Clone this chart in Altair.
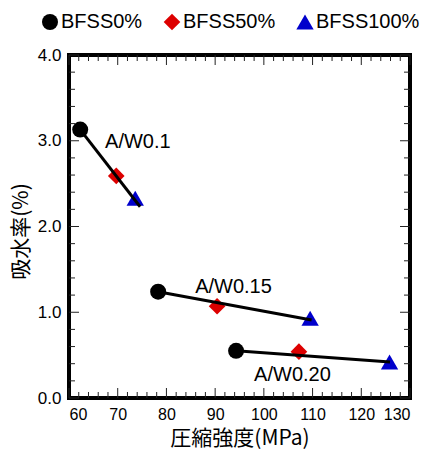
import altair as alt
import pandas as pd

series = ["BFSS0%", "BFSS50%", "BFSS100%"]
colors = ["#000000", "#dd0000", "#0000cc"]
shapes = ["circle", "diamond", "triangle-up"]

bfss0_x = [62.3, 78.3, 94.3]
bfss0_y = [3.13, 1.24, 0.55]
bfss50_x = [69.7, 90.4, 107.2]
bfss50_y = [2.59, 1.07, 0.54]
bfss100_x = [73.6, 109.5, 125.8]
bfss100_y = [2.33, 0.93, 0.42]

fit_start_x = [62.3, 78.3, 94.3]
fit_start_y = [3.13, 1.24, 0.55]
fit_end_x = [74.6, 109.8, 125.9]
fit_end_y = [2.23, 0.91, 0.42]

group_labels = ["A/W0.1", "A/W0.15", "A/W0.20"]
label_x = [67.4, 85.9, 98.0]
label_y = [2.98, 1.30, 0.27]

x_major = [60, 70, 80, 90, 100, 110, 120, 130]
x_minor = [62, 64, 66, 68, 72, 74, 76, 78, 82, 84, 86, 88, 92, 94, 96, 98,
           102, 104, 106, 108, 112, 114, 116, 118, 122, 124, 126, 128]
y_major = [0, 1, 2, 3, 4]
y_minor = [0.2, 0.4, 0.6, 0.8, 1.2, 1.4, 1.6, 1.8, 2.2, 2.4, 2.6, 2.8,
           3.2, 3.4, 3.6, 3.8]

W, H = 341, 343
FONT = "Liberation Sans"
JFONT = "Noto Sans CJK JP"

rows = []
for name, xs, ys in [(series[0], bfss0_x, bfss0_y),
                     (series[1], bfss50_x, bfss50_y),
                     (series[2], bfss100_x, bfss100_y)]:
    for xv, yv in zip(xs, ys):
        rows.append({"series": name, "x": xv, "y": yv})
pts = pd.DataFrame(rows)

line_rows = []
for i, g in enumerate(group_labels):
    line_rows.append({"g": g, "x": fit_start_x[i], "y": fit_start_y[i], "o": 0})
    line_rows.append({"g": g, "x": fit_end_x[i], "y": fit_end_y[i], "o": 1})
lines = pd.DataFrame(line_rows)

labels = pd.DataFrame({"t": group_labels, "x": label_x, "y": label_y})

xs = alt.Scale(domain=[60, 130], nice=False, zero=False)
ys = alt.Scale(domain=[0, 4], nice=False, zero=False)

xaxis = alt.Axis(values=x_major, format="d", ticks=False, domain=False, grid=False,
                 labelFont=FONT, labelFontSize=16, labelColor="black", labelPadding=8,
                 title="圧縮強度(MPa)", titleFont=JFONT, titleFontSize=21,
                 titleFontWeight="normal", titleColor="black", titlePadding=5)
yaxis = alt.Axis(values=y_major, format=".1f", ticks=False, domain=False, grid=False,
                 labelFont=FONT, labelFontSize=17, labelColor="black", labelPadding=8,
                 title="吸水率(%)", titleFont=JFONT, titleFontSize=21,
                 titleFontWeight="normal", titleColor="black",
                 titleX=-38, titleY=176, titleAngle=-90, titleAlign="center",
                 titleBaseline="bottom")

points = alt.Chart(pts).mark_point(filled=True, opacity=1, strokeWidth=0).encode(
    x=alt.X("x:Q", scale=xs, axis=xaxis),
    y=alt.Y("y:Q", scale=ys, axis=yaxis),
    color=alt.Color("series:N", scale=alt.Scale(domain=series, range=colors),
                    legend=alt.Legend(title=None, orient="none", direction="horizontal",
                                      legendX=-29, legendY=-43, padding=0,
                                      symbolSize=256, symbolStrokeWidth=0,
                                      symbolOpacity=1, labelFont=FONT,
                                      labelFontSize=20, labelColor="black",
                                      labelOffset=1, columnPadding=19)),
    shape=alt.Shape("series:N", scale=alt.Scale(domain=series, range=shapes)),
    size=alt.Size("series:N", scale=alt.Scale(domain=series, range=[256, 300, 300]),
                  legend=None),
)

fit = alt.Chart(lines).mark_line(color="black", strokeWidth=3).encode(
    x=alt.X("x:Q", scale=xs), y=alt.Y("y:Q", scale=ys), detail="g:N", order="o:Q")

text = alt.Chart(labels).mark_text(align="left", baseline="middle", font=FONT,
                                   fontSize=20, color="black").encode(
    x=alt.X("x:Q", scale=xs), y=alt.Y("y:Q", scale=ys), text="t:N")

def xticks(vals, length):
    df = pd.DataFrame({"v": vals})
    bot = alt.Chart(df).mark_rule(color="#222", strokeWidth=1).encode(
        x=alt.X("v:Q", scale=xs), y=alt.value(H), y2=alt.value(H - length))
    top = alt.Chart(df).mark_rule(color="#222", strokeWidth=1).encode(
        x=alt.X("v:Q", scale=xs), y=alt.value(0), y2=alt.value(length))
    return bot + top

def yticks(vals, length):
    df = pd.DataFrame({"v": vals})
    lft = alt.Chart(df).mark_rule(color="#222", strokeWidth=1).encode(
        y=alt.Y("v:Q", scale=ys), x=alt.value(0), x2=alt.value(length))
    rgt = alt.Chart(df).mark_rule(color="#222", strokeWidth=1).encode(
        y=alt.Y("v:Q", scale=ys), x=alt.value(W), x2=alt.value(W - length))
    return lft + rgt

one = pd.DataFrame({"k": [0]})
outer = alt.Chart(one).mark_rect(fill="black", strokeWidth=0).encode(
    x=alt.value(-2), x2=alt.value(W + 2), y=alt.value(-2), y2=alt.value(H + 2))
inner = alt.Chart(one).mark_rect(fill="white", strokeWidth=0).encode(
    x=alt.value(2), x2=alt.value(W - 2), y=alt.value(2), y2=alt.value(H - 2))

chart = alt.layer(
    outer, inner,
    xticks(x_minor, 6), xticks(x_major, 10), yticks(y_minor, 6), yticks(y_major, 10),
    points, fit, text,
).properties(
    width=W, height=H,
    autosize=alt.AutoSizeParams(type="none"),
    padding={"left": 69, "top": 55, "right": 21, "bottom": 56},
    background="white",
).configure_view(strokeWidth=0)

chart.save("out.html", embed_options={"renderer": "svg", "actions": False})
